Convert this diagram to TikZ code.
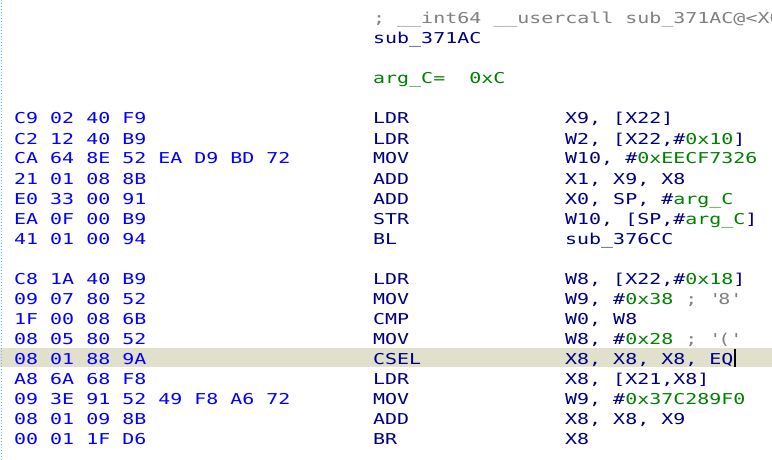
\documentclass[tikz,border=0pt]{standalone}
\usepackage{fontspec}
\usetikzlibrary{positioning}
\newfontfamily\idafont[FakeStretch=1.33]{DejaVu Sans Mono}
\definecolor{idablue}{RGB}{0,0,255}
\definecolor{idanavy}{RGB}{0,0,128}
\definecolor{idagreen}{RGB}{0,128,0}
\definecolor{idagrey}{RGB}{128,128,128}
\definecolor{idahilite}{RGB}{224,224,204}
\definecolor{idadots}{RGB}{90,190,255}
\newcommand{\num}[1]{\textcolor{idagreen}{#1}}
\newcommand{\cmt}[1]{\textcolor{idagrey}{#1}}
\newcommand{\q}{\textquotesingle}

\begin{document}
\begin{tikzpicture}[x=1pt,y=-1pt,
    every node/.style={inner sep=0pt,anchor=base west,text=idanavy,
      font=\idafont\fontsize{15}{18}\selectfont},
    hexbytes/.style={text=idablue}]
  \useasboundingbox (0,0) rectangle (772,460);
  \clip (0,0) rectangle (772,460);
  % current line
  \fill[idahilite] (0,348) rectangle (772,367);
  \draw[idadots, dotted, line width=1pt] (1,0) -- (1,460);

  % header
  \node[text=idagrey] (head) at (373,24) {; \_\_int64 \_\_usercall sub\_371AC@<X0>};
  \node (name) at (373,44) {sub\_371AC};
  \node[text=idagreen] (argc) at (373,84) {arg\_C=\ \ 0xC};

  % instructions
  \foreach \row/\hex/\mn/\ops in {
      124/{C9 02 40 F9}/LDR/{X9, [X22]},
      144/{C2 12 40 B9}/LDR/{W2, [X22,\#\num{0x10}]},
      164/{CA 64 8E 52 EA D9 BD 72}/MOV/{W10, \#\num{0xEECF7326}},
      184/{21 01 08 8B}/ADD/{X1, X9, X8},
      204/{E0 33 00 91}/ADD/{X0, SP, \#\num{arg\_C}},
      224/{EA 0F 00 B9}/STR/{W10, [SP,\#\num{arg\_C}]},
      244/{41 01 00 94}/BL/{sub\_376CC},
      284/{C8 1A 40 B9}/LDR/{W8, [X22,\#\num{0x18}]},
      304/{09 07 80 52}/MOV/{W9, \#\num{0x38} \cmt{; \q8\q}},
      324/{1F 00 08 6B}/CMP/{W0, W8},
      344/{08 05 80 52}/MOV/{W8, \#\num{0x28} \cmt{; \q(\q}},
      364/{08 01 88 9A}/CSEL/{X8, X8, X8, EQ},
      384/{A8 6A 68 F8}/LDR/{X8, [X21,X8]},
      404/{09 3E 91 52 49 F8 A6 72}/MOV/{W9, \#\num{0x37C289F0}},
      424/{08 01 09 8B}/ADD/{X8, X8, X9},
      444/{00 01 1F D6}/BR/{X8}} {
    \node[hexbytes] (hex\row) at (14,\row) {\hex};
    \node (mn\row) at (373,\row) {\mn};
    \node (ops\row) at (565,\row) {\ops};
  }

  % cursor
  \draw[black, line width=1.3pt] ([xshift=1.5pt]ops364.base east) ++(0,3) -- ++(0,-18);
\end{tikzpicture}
\end{document}
